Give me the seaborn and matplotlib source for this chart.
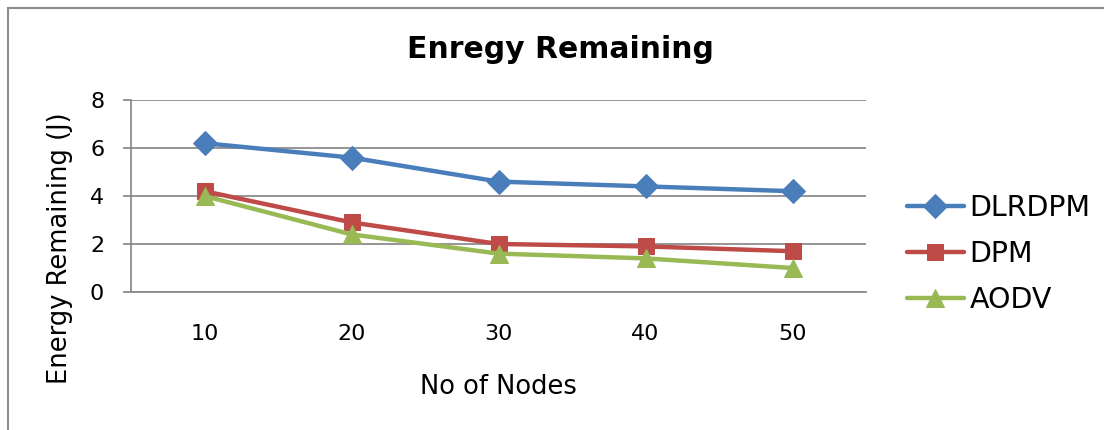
import matplotlib
matplotlib.use("Agg")
import matplotlib.pyplot as plt
import seaborn as sns
import pandas as pd
from matplotlib.patches import Rectangle

nodes = ["10", "20", "30", "40", "50"]
dlrdpm = [6.2, 5.6, 4.6, 4.4, 4.2]
dpm = [4.2, 2.9, 2.0, 1.9, 1.7]
aodv = [4.0, 2.4, 1.6, 1.4, 1.0]
series_names = ["DLRDPM", "DPM", "AODV"]
colors = ["#4A7EBB", "#BE4B48", "#98B954"]
markers = ["D", "s", "^"]

rows = []
for name, vals in zip(series_names, [dlrdpm, dpm, aodv]):
    for i, (n, v) in enumerate(zip(nodes, vals)):
        rows.append({"pos": i, "Nodes": n, "Energy": v, "Series": name})
df = pd.DataFrame(rows)

sns.set_theme(style="white")
plt.rcParams['font.family'] = ['DejaVu Sans']
plt.rcParams['text.color'] = 'black'
plt.rcParams['axes.labelcolor'] = 'black'
plt.rcParams['xtick.color'] = 'black'
plt.rcParams['ytick.color'] = 'black'

fig = plt.figure(figsize=(11.04, 4.30), dpi=100)
ax = fig.add_axes([131 / 1104, 1 - 292 / 430, (866 - 131) / 1104, (292 - 100) / 430])

# outer chart frame
fig.patches.append(Rectangle((8 / 1104, -0.1), 1.2, 1 - 8 / 430 + 0.1,
                             transform=fig.transFigure, fill=False,
                             edgecolor="#8C8C8C", linewidth=1.5, zorder=0))

for name, col, mk in zip(series_names, colors, markers):
    sub = df[df["Series"] == name]
    ms = {"D": 12, "s": 12, "^": 13}[mk]
    sns.lineplot(data=sub, x="pos", y="Energy", ax=ax, color=col, marker=mk,
                 markersize=ms, markeredgecolor=col, linewidth=3.2, label=name,
                 zorder=3)

ax.set_xlim(-0.5, 4.5)
ax.set_ylim(0, 8)
ax.set_yticks([0, 2, 4, 6, 8])
ax.set_xticks(range(len(nodes)))
ax.set_xticklabels(nodes)
ax.yaxis.grid(True, color="#8C8C8C", linewidth=1.3)
ax.xaxis.grid(False)
for s in ["top", "right"]:
    ax.spines[s].set_visible(False)
for s in ["left", "bottom"]:
    ax.spines[s].set_color("#8C8C8C")
    ax.spines[s].set_linewidth(1.3)
ax.tick_params(axis="y", which="both", left=True, length=5.8, color="#8C8C8C",
               width=1.3, labelsize=16, pad=13.5, labelcolor="black")
ax.tick_params(axis="x", bottom=False, labelsize=16, pad=17, labelcolor="black")
ax.set_xlabel("No of Nodes", fontsize=18.5, labelpad=22)
ax.set_ylabel("Energy Remaining (J)", fontsize=18.5)
ax.yaxis.set_label_coords((73 - 131) / 735, (292 - 248) / 192)

fig.text(560 / 1104, 1 - 50 / 430, "Enregy Remaining", fontsize=21.5,
         fontweight="bold", ha="center", va="center")

leg = ax.legend(loc="center left", bbox_to_anchor=(907 / 1104, 1 - 254 / 430),
                bbox_transform=fig.transFigure, frameon=False, borderaxespad=0,
                borderpad=0, fontsize=20.5, handlelength=2.0, labelspacing=0.62,
                handletextpad=0.2, markerscale=1.0)

fig.savefig("out.png", dpi=100)
